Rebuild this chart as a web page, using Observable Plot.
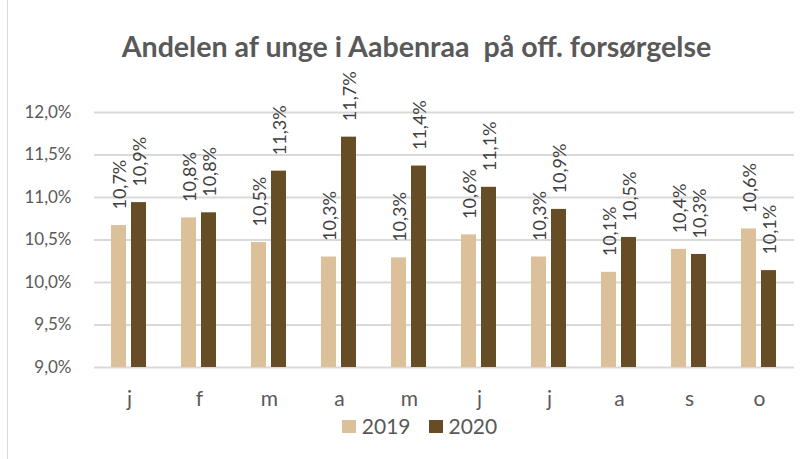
<!DOCTYPE html>
<html>
<head>
<meta charset="utf-8">
<script src="https://cdn.jsdelivr.net/npm/d3@7"></script>
<script src="https://cdn.jsdelivr.net/npm/@observablehq/plot@0.6"></script>
<style>
  html, body { margin: 0; padding: 0; background: #fff; }
  #wrap { position: relative; width: 811px; height: 459px; overflow: hidden; font-family: Lato, "Open Sans", sans-serif; }
  #border { position: absolute; left: 7px; top: 0; width: 0; height: 459px; border-left: 1px solid #d9d9d9; }
  #title { position: absolute; left: 11px; width: 811px; top: 29px; text-align: center; font-size: 28.6px; line-height: 35px; font-weight: bold; color: #595959; white-space: pre; }
  #chart { position: absolute; left: 0; top: 0; }
  #legend { position: absolute; left: 14px; width: 811px; top: 413px; display: flex; justify-content: center; gap: 18px; font-size: 21px; line-height: 26px; color: #595959; }
  .item { display: flex; align-items: center; gap: 6px; }
  .sw { width: 14px; height: 13px; display: inline-block; }
</style>
</head>
<body>
<div id="wrap">
  <div id="border"></div>
  <div id="chart"></div>
  <div id="title">Andelen af unge i Aabenraa  på off. forsørgelse</div>
  <div id="legend"></div>
</div>
<script>
const months = ["j", "f", "m", "a", "m", "j", "j", "a", "s", "o"];
const years = ["2019", "2020"];
const values2019 = [10.67, 10.76, 10.47, 10.30, 10.29, 10.56, 10.30, 10.12, 10.39, 10.63];
const values2020 = [10.94, 10.82, 11.31, 11.71, 11.37, 11.12, 10.86, 10.53, 10.33, 10.14];
const yTicks = [9.0, 9.5, 10.0, 10.5, 11.0, 11.5, 12.0];
const colors = ["#dbc09a", "#664d26"];

const data = [];
months.forEach((m, i) => {
  data.push({i, year: years[0], value: values2019[i]});
  data.push({i, year: years[1], value: values2020[i]});
});
const pct = v => v.toFixed(1).replace(".", ",") + "%";

const chart = Plot.plot({
  width: 811,
  height: 420,
  marginLeft: 92,
  marginRight: 16,
  marginTop: 112,
  marginBottom: 53,
  style: {fontFamily: "Lato, 'Open Sans', sans-serif", background: "transparent", overflow: "visible"},
  fx: {domain: d3.range(months.length), padding: 0, label: null, axis: null},
  x: {domain: years, paddingInner: 0.23, paddingOuter: 0.84, axis: null},
  y: {domain: [9, 12], axis: null},
  color: {domain: years, range: colors},
  marks: [
    Plot.gridY(yTicks, {stroke: "#d9d9d9", strokeOpacity: 1, strokeWidth: 2}),
    Plot.axisY(yTicks, {tickSize: 0, tickPadding: 23, fontSize: 17, fill: "#595959", tickFormat: pct, label: null}),
    Plot.axisFx({anchor: "bottom", tickSize: 0, tickPadding: 24, fontSize: 21, fill: "#595959", tickFormat: i => months[i], label: null}),
    Plot.barY(data, {fx: "i", x: "year", y1: 9, y2: "value", fill: "year"}),
    Plot.text(data, {fx: "i", x: "year", y: "value", text: d => pct(d.value), rotate: -90, textAnchor: "start", lineAnchor: "middle", dy: -16, dx: 1, fontSize: 18, fill: "#404040"})
  ]
});
document.getElementById("chart").appendChild(chart);

const legend = document.getElementById("legend");
years.forEach((y, k) => {
  const it = document.createElement("div");
  it.className = "item";
  const sw = document.createElement("span");
  sw.className = "sw";
  sw.style.background = colors[k];
  const t = document.createElement("span");
  t.textContent = y;
  it.appendChild(sw); it.appendChild(t);
  legend.appendChild(it);
});
</script>
</body>
</html>
